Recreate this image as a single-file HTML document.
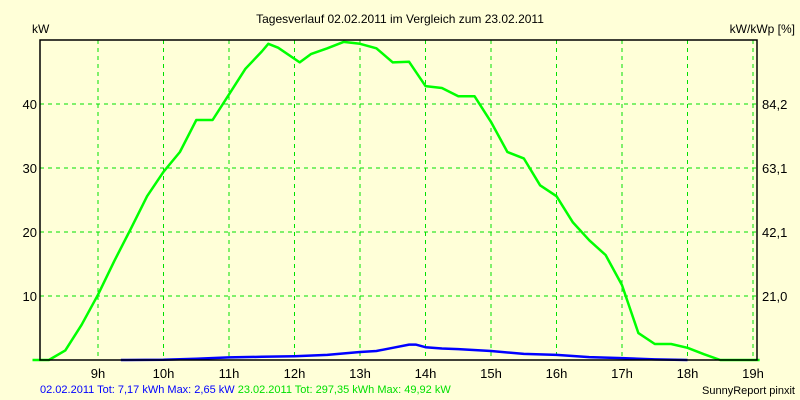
<!DOCTYPE html>
<html><head><meta charset="utf-8"><style>
body{margin:0;background:#FFFFD8;}
svg{display:block;font-family:"Liberation Sans",sans-serif;}
</style></head><body>
<svg id="chart" width="800" height="400" viewBox="0 0 800 400">
<rect width="800" height="400" fill="#FFFFD8"/>
<text x="400" y="23" text-anchor="middle" font-size="12" fill="#000">Tagesverlauf 02.02.2011 im Vergleich zum 23.02.2011</text>
<text x="32" y="33" font-size="12" fill="#000">kW</text>
<text x="795" y="33" text-anchor="end" font-size="12" fill="#000">kW/kWp [%]</text>
<g id="grid"></g>
<g id="series"></g>
<rect x="40" y="40" width="717" height="320" fill="none" stroke="#000" stroke-width="1.5"/>
<g id="labels"></g>
<text x="40" y="393" font-size="11" fill="#0000FF">02.02.2011 Tot: 7,17 kWh Max: 2,65 kW <tspan fill="#00E000">23.02.2011 Tot: 297,35 kWh Max: 49,92 kW</tspan></text>
<text x="795" y="394" text-anchor="end" font-size="11" fill="#000">SunnyReport pinxit</text>
</svg>
<script>
const hourTicks=[9,10,11,12,13,14,15,16,17,18,19];
const yTicks=[10,20,30,40];
const yRightLabels=["21,0","42,1","63,1","84,2"];
const greenTimes=[8.0,8.25,8.5,8.75,9.0,9.25,9.5,9.75,10.0,10.25,10.5,10.75,11.0,11.25,11.5,11.6,11.75,12.08,12.25,12.5,12.75,13.0,13.25,13.5,13.75,14.0,14.25,14.5,14.75,15.0,15.25,15.5,15.75,16.0,16.25,16.5,16.75,17.0,17.25,17.5,17.75,18.0,18.25,18.5,18.75,19.0,19.1];
const greenValues=[0,0,1.5,5.5,10.2,15.5,20.5,25.6,29.4,32.5,37.5,37.5,41.5,45.5,48.2,49.4,48.8,46.5,47.8,48.7,49.7,49.4,48.7,46.5,46.6,42.8,42.5,41.2,41.2,37.2,32.5,31.5,27.3,25.6,21.5,18.7,16.4,11.7,4.2,2.5,2.5,1.9,0.9,0,0,0,0];
const blueTimes=[9.35,10.0,10.5,11.0,11.5,12.0,12.5,13.0,13.25,13.5,13.75,13.85,14.0,14.25,14.5,15.0,15.5,16.0,16.5,17.0,17.5,18.0];
const blueValues=[0,0.05,0.2,0.4,0.5,0.6,0.8,1.25,1.4,1.9,2.4,2.4,2.0,1.8,1.7,1.4,0.95,0.8,0.45,0.3,0.1,0];
const NS="http://www.w3.org/2000/svg";
const xOf=t=>98+(t-9)*65.5;
const yOf=v=>360-v*6.4;
const grid=document.getElementById('grid'),labels=document.getElementById('labels'),series=document.getElementById('series');
function mk(tag,attrs,parent){const e=document.createElementNS(NS,tag);for(const k in attrs)e.setAttribute(k,attrs[k]);parent.appendChild(e);return e;}
hourTicks.forEach(h=>{
 const l=mk('line',{x1:xOf(h),x2:xOf(h),y1:40,y2:360,stroke:'#00E000','stroke-dasharray':'4,4'},grid);
 
 
 const t=mk('text',{x:xOf(h),y:378,'text-anchor':'middle','font-size':'13',fill:'#000'},labels);
 t.textContent=h+'h';
 
 
});
yTicks.forEach((v,i)=>{
 const l=mk('line',{x1:40,x2:757,y1:yOf(v),y2:yOf(v),stroke:'#00E000','stroke-dasharray':'4,4'},grid);
 
 
 const t=mk('text',{x:37,y:yOf(v)+5,'text-anchor':'end','font-size':'13',fill:'#000'},labels);
 t.textContent=v;
 
 
 const r=mk('text',{x:762,y:yOf(v)+5,'font-size':'13',fill:'#000'},labels);
 r.textContent=yRightLabels[i];
 
 
});
function line(ts,vs,color,name){
 const p=ts.map((t,i)=>xOf(t).toFixed(1)+','+yOf(vs[i]).toFixed(1)).join(' ');
 const e=mk('polyline',{points:p,fill:'none',stroke:color,'stroke-width':'2.5','stroke-linejoin':'round'},series);
 
 
}
line(blueTimes,blueValues,'#0000FF','series-02-02-2011');
line(greenTimes,greenValues,'#00FF00','series-23-02-2011');
</script>
</body></html>
